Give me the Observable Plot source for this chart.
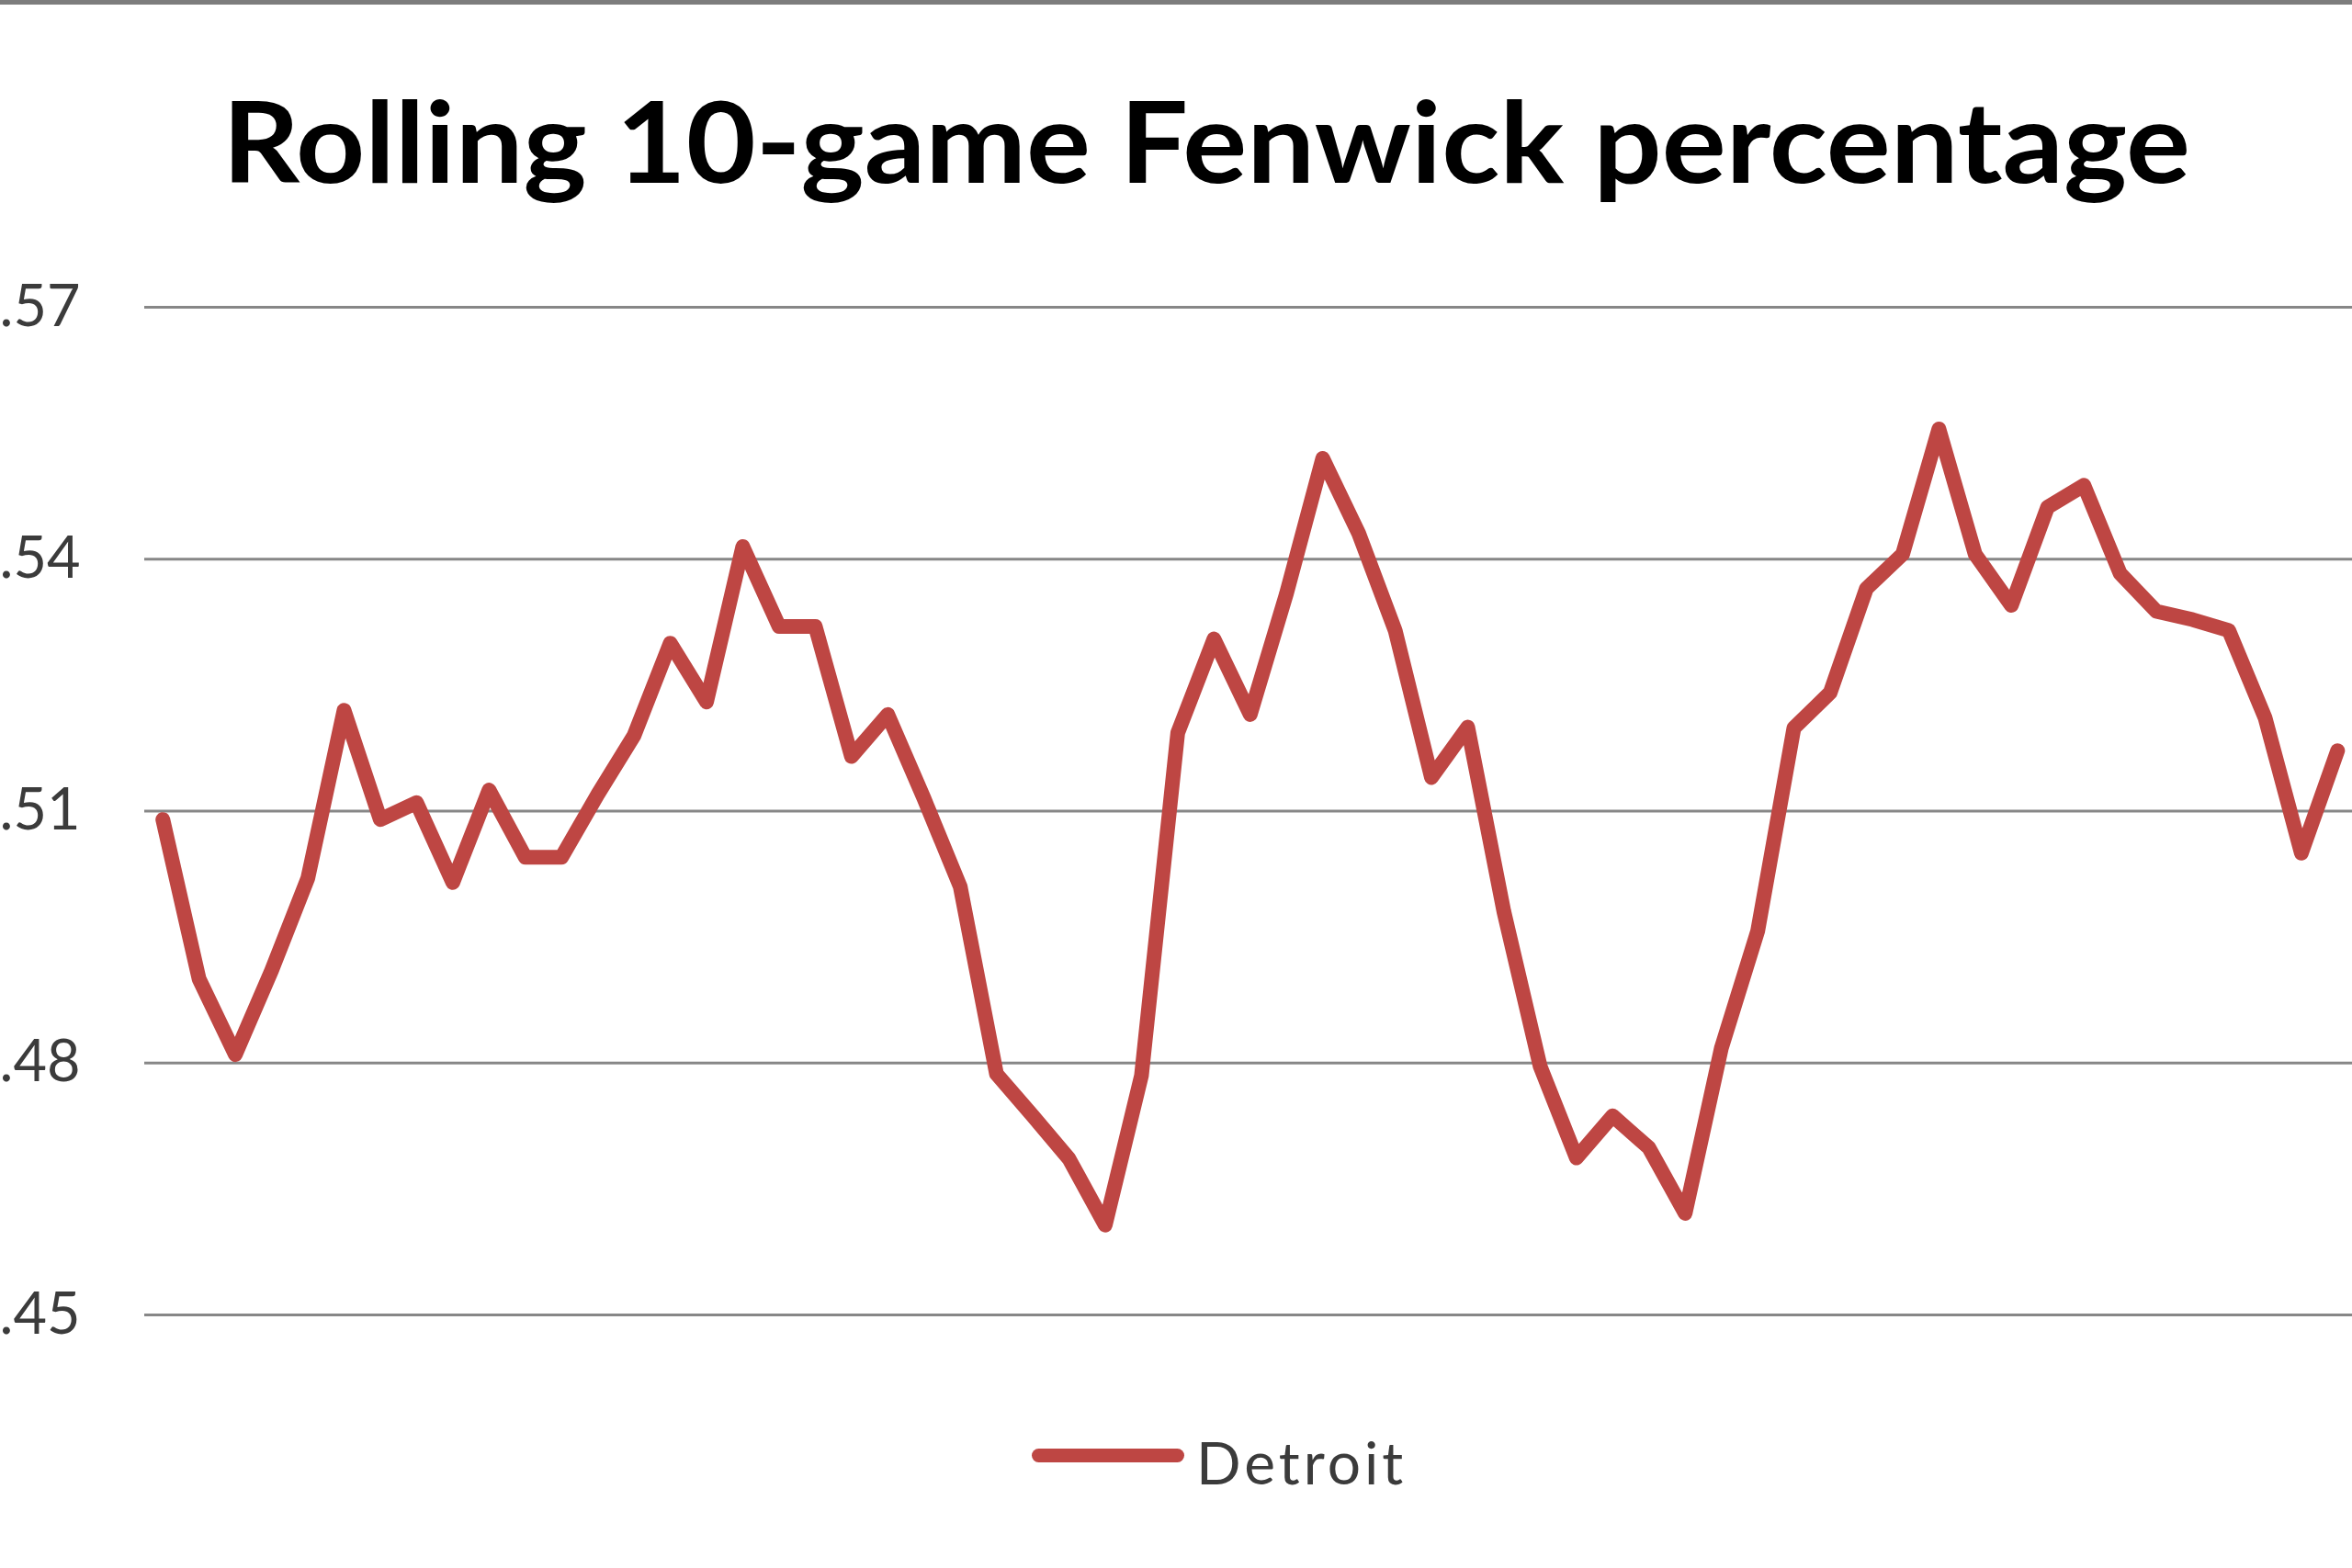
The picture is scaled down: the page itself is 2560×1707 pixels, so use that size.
<!DOCTYPE html>
<html>
<head>
<meta charset="utf-8">
<script src="https://cdn.jsdelivr.net/npm/d3@7"></script>
<script src="https://cdn.jsdelivr.net/npm/@observablehq/plot@0.6"></script>
<style>
  html, body { margin: 0; padding: 0; background: #fff; overflow: hidden; }
  #page { position: relative; width: 2560px; height: 1707px; background: #fff; }
  #topline { height: 5px; background: #7d7d7d; }
  #header { position: relative; height: 255px; }
  #title { position: absolute; left: 1313px; top: 85px; font-family: Lato, "Open Sans", sans-serif; font-weight: 700;
           font-size: 123px; line-height: 1; color: #000; white-space: nowrap; transform-origin: 0 0; }
  #chart svg { display: block; }
  #legend { position: relative; height: 207px; }
  #legend .swatch { position: absolute; left: 1123px; top: 76.5px; width: 166px; height: 15px; border-radius: 7.5px; background: #BE4643; }
  #legend .label { position: absolute; left: 1302px; top: 60px; font-family: Lato, "Open Sans", sans-serif; font-size: 64px;
                   letter-spacing: 4px; line-height: 1; color: #3b3b3b; white-space: nowrap; }
</style>
</head>
<body>
<div id="page">
  <div id="topline"></div>
  <div id="header"><span id="title">Rolling 10-game Fenwick percentage</span></div>
  <div id="chart"></div>
  <div id="legend"><div class="swatch"></div><span class="label">Detroit</span></div>
</div>
<script>
// Rolling 10-game Fenwick percentage, Detroit
const fenwick = [
  0.509, 0.490, 0.481, 0.491, 0.502, 0.522, 0.509, 0.511, 0.5015, 0.5125,
  0.5045, 0.5045, 0.512, 0.519, 0.530, 0.523, 0.5415, 0.532, 0.532, 0.5165,
  0.5215, 0.5115, 0.501, 0.4787, 0.4737, 0.4686, 0.4607, 0.4785, 0.5193, 0.5305,
  0.5215, 0.5359, 0.552, 0.543, 0.5315, 0.514, 0.520, 0.498, 0.4796, 0.4687,
  0.4737, 0.4699, 0.4621, 0.4818, 0.4957, 0.5199, 0.5241, 0.5365, 0.5406, 0.5555,
  0.5406, 0.5345, 0.5462, 0.5488, 0.5383, 0.5338, 0.5328, 0.5315, 0.5211, 0.505,
  0.5172
];
const yTicks = [0.45, 0.48, 0.51, 0.54, 0.57];
const seriesName = "Detroit";

const lineColor = "#BE4643";
const gridColor = "#878787";

const chart = Plot.plot({
  width: 2560,
  height: 1240,
  marginLeft: 157,
  marginRight: 0,
  marginTop: 74,
  marginBottom: 69,
  style: { fontFamily: "Lato, 'Open Sans', sans-serif", background: "#fff", color: "#3b3b3b" },
  x: { domain: [-0.5, 60.41], axis: null },
  y: { domain: [0.45, 0.57], axis: null },
  marks: [
    Plot.ruleY(yTicks, { stroke: gridColor, strokeWidth: 3 }),
    Plot.axisY({
      ticks: yTicks,
      tickSize: 0,
      tickPadding: 70,
      fontSize: 63,
      tickFormat: d => d.toFixed(2).slice(1)
    }),
    Plot.lineY(fenwick, {
      stroke: lineColor,
      strokeWidth: 16,
      strokeLinejoin: "round",
      strokeLinecap: "round"
    })
  ]
});
document.getElementById("chart").appendChild(chart);

// fit title width to the reference (Calibri is narrower than substitutes)
const title = document.getElementById("title");
const w = title.getBoundingClientRect().width;
const k = 2142 / w;
title.style.transform = `scaleX(${k}) translateX(-50%)`;
</script>
</body>
</html>
